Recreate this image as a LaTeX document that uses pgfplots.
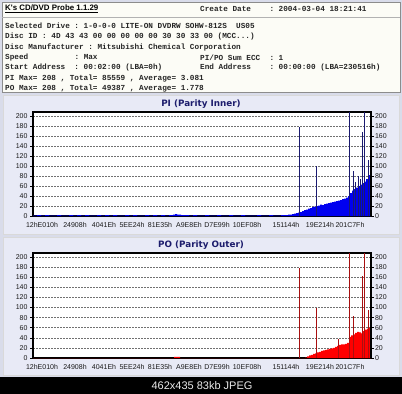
\documentclass[border=0pt]{standalone}
\usepackage{fontspec}
\setmainfont{DejaVu Sans}
\setmonofont{Liberation Mono}
\newfontfamily\titlefont{Liberation Sans}
\newfontfamily\tickfont{Liberation Sans}
\newfontfamily\headfont{DejaVu Sans}
\usepackage{pgfplots}
\pgfplotsset{compat=1.18}
\definecolor{outerbg}{HTML}{D9DCEA}
\definecolor{panelbg}{HTML}{E8EAF6}
\definecolor{infobg}{HTML}{FCFCF6}
\definecolor{navy}{HTML}{1C1C6C}
\definecolor{piblue}{HTML}{0000F0}
\definecolor{pispike}{HTML}{1A1A70}
\definecolor{pored}{HTML}{FF0000}
\definecolor{pospike}{HTML}{A81010}
\definecolor{gridc}{HTML}{707070}

\pgfplotsset{
 kp/.style={
  scale only axis, width=338bp, height=104bp, anchor=south west,
  xmin=0, xmax=338, ymin=0, ymax=208,
  axis background/.style={fill=white},
  axis line style={line width=1.6bp, black},
  ytick={0,20,...,200},
  ymajorgrids,
  grid style={dash pattern=on 1.5bp off 1.5bp, color=gridc, line width=0.6bp},
  xtick={9,42,71,99,127,156,184,214,253,287,317},
  xticklabels={12hE010h,24908h,4041Eh,5EE24h,81E35h,A9E8Eh,D7E99h,10EF08h,151144h,19E214h,201C7Fh},
  tick label style={font=\tickfont\fontsize{7bp}{8bp}\selectfont, text=black!90},
  tick align=outside, major tick length=2.5bp,
  xtick style={draw=none},
  ytick style={line width=0.6bp, black},
  ytick pos=left,
  xticklabel style={yshift=-0.5bp},
  yticklabel style={xshift=0.5bp},
  /pgf/number format/assume math mode=true,
 },
 kpr/.style={
  scale only axis, width=338bp, height=104bp, anchor=south west,
  xmin=0, xmax=338, ymin=0, ymax=208,
  axis x line=none, axis y line*=right,
  axis line style={line width=1.6bp, black},
  ytick={0,20,...,200},
  tick label style={font=\tickfont\fontsize{7bp}{8bp}\selectfont, text=black!90},
  tick align=outside, major tick length=2.5bp,
  ytick style={line width=0.6bp, black},
  yticklabel style={xshift=-2bp},
  /pgf/number format/assume math mode=true,
 }
}

\begin{document}
\begin{tikzpicture}
\useasboundingbox (0,0) rectangle (402bp,-394bp);
\fill[outerbg] (0,0) rectangle (402bp,-394bp);
% info box
\filldraw[fill=infobg, draw=black!45, line width=0.8bp] (2bp,-2bp) rectangle (400bp,-92bp);
\draw[black!30, line width=0.6bp] (2bp,-17bp) -- (400bp,-17bp);
\node[anchor=west, inner sep=0, font=\titlefont\bfseries\fontsize{7.9bp}{9bp}\selectfont] at (5bp,-9bp) {\underline{K's CD/DVD Probe 1.1.29}};
\begin{scope}[every node/.style={anchor=west, inner sep=0, font=\ttfamily\bfseries\fontsize{7.7bp}{9bp}\selectfont, text=black!85}]
\node at (200bp,-9bp) {Create Date~~~~: 2004-03-04 18:21:41};
\node at (5bp,-26bp) {Selected Drive : 1-0-0-0 LITE-ON DVDRW SOHW-812S~~US05};
\node at (5bp,-36.5bp) {Disc ID : 4D 43 43 00 00 00 00 00 30 30 33 00 (MCC...)};
\node at (5bp,-47bp) {Disc Manufacturer : Mitsubishi Chemical Corporation};
\node at (5bp,-57.5bp) {Speed~~~~~~~~~~: Max};
\node at (200bp,-57.5bp) {PI/PO Sum ECC~~: 1};
\node at (5bp,-68bp) {Start Address~~: 00:02:00 (LBA=0h)};
\node at (200bp,-68bp) {End Address~~~~: 00:00:00 (LBA=230516h)};
\node at (5bp,-78.5bp) {PI Max= 208 , Total= 85559 , Average= 3.081};
\node at (5bp,-89bp) {PO Max= 208 , Total= 49387 , Average= 1.778};
\end{scope}
% panels
\filldraw[fill=panelbg, draw=white!85!black, line width=0.8bp] (3bp,-95bp) rectangle (399bp,-234bp);
\filldraw[fill=panelbg, draw=white!85!black, line width=0.8bp] (3bp,-237bp) rectangle (399bp,-375bp);
\node[font=\headfont\bfseries\fontsize{8.8bp}{10bp}\selectfont, text=navy] at (201bp,-104.5bp) {PI (Parity Inner)};
\node[font=\headfont\bfseries\fontsize{8.8bp}{10bp}\selectfont, text=navy] at (201bp,-245bp) {PO (Parity Outer)};
% bottom bar
\fill[black] (0,-377bp) rectangle (402bp,-394bp);
\node[font=\titlefont\fontsize{11bp}{12bp}\selectfont, text=white!92!black] at (202bp,-385.5bp) {462x435 83kb JPEG};

% PI axis
\begin{axis}[kp, at={(33bp,-216bp)}]
\addplot[const plot, fill=piblue, draw=none] coordinates {
(0,1)(4,2)(8,1)(12,2)(16,1)(20,1)(24,2)(28,1)(32,1)(36,2)(40,1)(44,2)(48,1)(52,2)(56,1)(60,1)(64,2)(68,1)(72,2)(76,1)(80,2)(84,1)(88,1)(92,2)(96,1)(100,2)(104,1)(108,1)(112,2)(116,1)(120,2)(124,1)(128,2)(132,1)(136,2)(140,3)(142,4)(144,3)(148,2)(152,2)(156,1)(160,2)(164,1)(168,1)(172,2)(176,1)(180,1)(184,2)(188,1)(192,1)(196,2)(200,1)(204,1)(208,2)(212,1)(216,1)(220,1)(224,2)(228,1)(232,1)(236,2)(240,1)(244,1)(248,2)(252,2)(255,3)
(257,3)(259,4)(261,5)(263,6)(265,7)(267,8)(269,10)(271,12)(273,13)(275,15)(277,16)(279,18)(281,19)(283,20)(285,21)(287,23)(289,22)(291,24)(293,25)(295,26)(297,27)(299,28)(301,29)(303,30)(305,31)(307,32)(309,34)(311,35)(313,37)(315,40)(317,46)(319,51)(321,54)(323,57)(325,60)(327,63)(329,66)(331,69)(333,74)(335,80)(336,82)(337,84)(338,86)
} \closedcycle;
\addplot[ycomb, draw=pispike, line width=1bp, mark=none] coordinates {
(266,178)(283,100)(316,208)(320,90)(322,68)(325,80)(327,75)(329,168)(331,208)(335,113)(337,130)
};
\end{axis}
\begin{axis}[kpr, at={(33bp,-216bp)}]
\addplot[draw=none] coordinates {(0,0)};
\end{axis}

% PO axis
\begin{axis}[kp, at={(33bp,-358bp)}, height=105bp]
\addplot[const plot, fill=pored, draw=none] coordinates {
(0,0)(140,0)(141,2)(146,2)(147,0)(270,0)
(272,1)(274,3)(276,5)(278,6)(280,8)(282,9)(284,11)(286,12)(288,14)(290,15)(292,16)(294,17)(296,18)(298,19)(300,20)(302,22)(304,24)(306,26)(308,27)(310,27)(312,28)(314,30)(316,42)(318,45)(320,47)(322,50)(324,52)(326,51)(328,49)(330,53)(332,56)(334,58)(336,60)(338,63)
} \closedcycle;
\addplot[ycomb, draw=pospike, line width=1bp, mark=none] coordinates {
(266,178)(283,100)(305,38)(316,208)(320,83)(329,162)(331,208)(335,95)(337,110)
};
\end{axis}
\begin{axis}[kpr, at={(33bp,-358bp)}, height=105bp]
\addplot[draw=none] coordinates {(0,0)};
\end{axis}
\end{tikzpicture}
\end{document}
